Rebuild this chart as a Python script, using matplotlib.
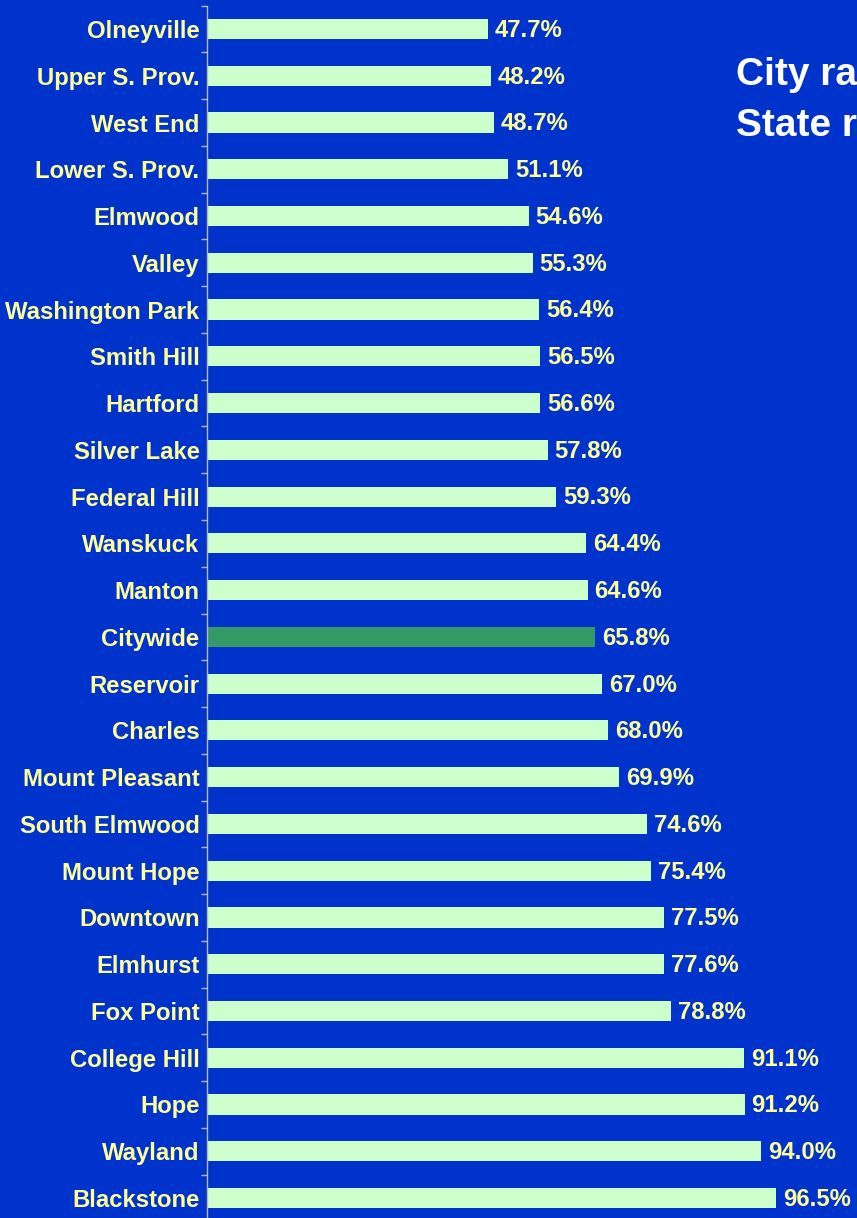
import matplotlib
matplotlib.use("Agg")
import matplotlib.pyplot as plt
import numpy as np

neighborhoods = ["Olneyville", "Upper S. Prov.", "West End", "Lower S. Prov.", "Elmwood",
                 "Valley", "Washington Park", "Smith Hill", "Hartford", "Silver Lake",
                 "Federal Hill", "Wanskuck", "Manton", "Citywide", "Reservoir", "Charles",
                 "Mount Pleasant", "South Elmwood", "Mount Hope", "Downtown", "Elmhurst",
                 "Fox Point", "College Hill", "Hope", "Wayland", "Blackstone"]
rates = [47.7, 48.2, 48.7, 51.1, 54.6, 55.3, 56.4, 56.5, 56.6, 57.8, 59.3, 64.4, 64.6,
         65.8, 67.0, 68.0, 69.9, 74.6, 75.4, 77.5, 77.6, 78.8, 91.1, 91.2, 94.0, 96.5]
highlight = "Citywide"

BG = "#0033CC"
BAR = "#CCFFCC"
HI = "#339966"
YEL = "#FFFF99"

plt.rcParams['font.family'] = ['Liberation Sans', 'DejaVu Sans']

W, H = 857, 1218
fig = plt.figure(figsize=(W / 100, H / 100), dpi=100, facecolor=BG)

x0 = 206.5
pxper = 5.9
xmax = 110
top = 5.6
bottom = 1221.4
ax = fig.add_axes([x0 / W, 1 - bottom / H, xmax * pxper / W, (bottom - top) / H])
ax.set_facecolor(BG)

n = len(neighborhoods)
y = np.arange(n)
colors = [HI if c == highlight else BAR for c in neighborhoods]
ax.barh(y, rates, height=0.43, color=colors, edgecolor='none')
ax.set_xlim(0, xmax)
ax.set_ylim(n - 0.5, -0.5)

FS = 17.2
for yi, v in zip(y, rates):
    ax.annotate(f"{v:.1f}%", xy=(v, yi), xytext=(5, -1), textcoords='offset points',
                ha='left', va='center', color=YEL, fontsize=FS, fontweight='bold')

ax.set_yticks(y)
ax.set_yticklabels(neighborhoods, color=YEL, fontsize=FS, fontweight='bold')
ax.tick_params(axis='y', which='major', length=0, pad=5)
ax.set_yticks(np.arange(-0.5, n, 1.0), minor=True)
ax.tick_params(axis='y', which='minor', length=4, width=1, color='#b8b8b0', direction='out')
ax.set_xticks([])
for s in ['top', 'right', 'bottom']:
    ax.spines[s].set_visible(False)
ax.spines['left'].set_color('#b8b8b0')
ax.spines['left'].set_linewidth(1)

fig.text(736 / W, 1 - 71 / H, "City rate = 65.8%", color='white', fontsize=28,
         fontweight='bold', ha='left', va='center_baseline')
fig.text(736 / W, 1 - 122 / H, "State rate", color='white', fontsize=28,
         fontweight='bold', ha='left', va='center_baseline')

fig.savefig("out.png", dpi=100, facecolor=BG)
